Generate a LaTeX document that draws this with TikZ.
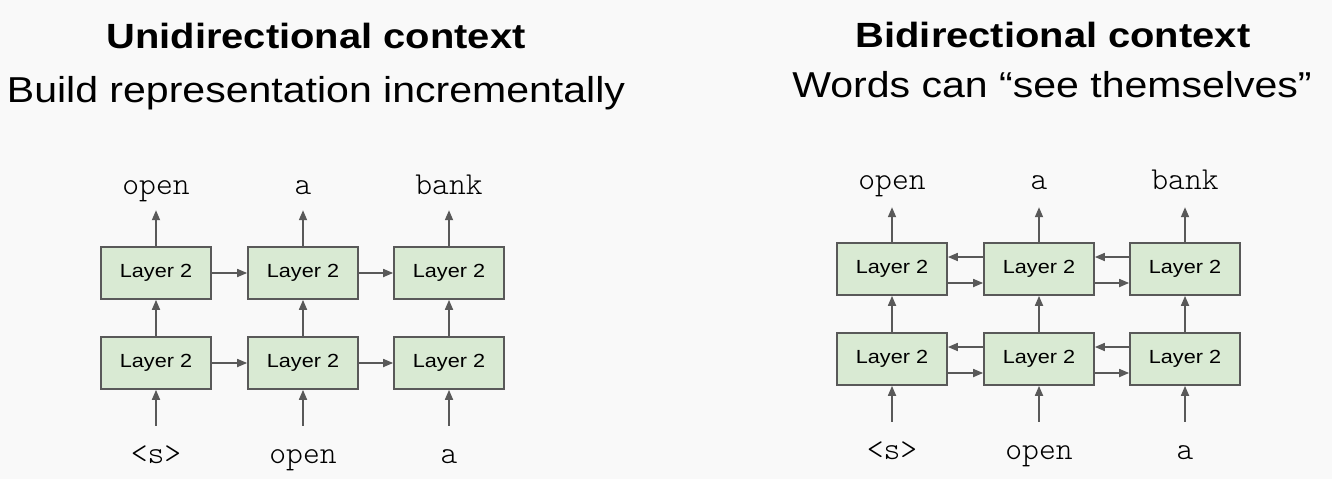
\documentclass[tikz,border=0pt]{standalone}
\usepackage{fontspec}
\setmainfont{Liberation Sans}[FakeStretch=1.14]
\setmonofont{Latin Modern Mono Light}
\usetikzlibrary{arrows.meta}
\definecolor{boxgreen}{HTML}{D9EAD3}
\definecolor{edgegray}{HTML}{595959}
\definecolor{pagegray}{HTML}{F9F9F9}
\newcommand{\tok}[1]{\texttt{#1}}

\tikzset{
  layer/.style={draw=edgegray, line width=1.7pt, fill=boxgreen,
    minimum width=110pt, minimum height=52pt, inner sep=0pt,
    font=\fontsize{19}{22}\selectfont},
  word/.style={anchor=base, inner sep=0pt, text height=18pt, text depth=6pt,
    font=\fontsize{32}{36}\selectfont},
  flow/.style={draw=edgegray, line width=1.7pt,
    -{Triangle[length=10pt,width=8pt]}},
  headline/.style={anchor=base, font=\fontsize{35}{40}\selectfont\bfseries},
  subline/.style={anchor=base, font=\fontsize{36}{40}\selectfont}
}

\begin{document}
\begin{tikzpicture}[x=1pt,y=-1pt]
    \path[use as bounding box, fill=pagegray] (0,0) rectangle (1332,479);

    % unidirectional
    \node[headline] (t1) at (316,48) {Unidirectional context};
    \node[subline]  (s1) at (316,102) {Build representation incrementally};

    \node[layer] (ul1) at (156,363) {Layer 2};
    \node[layer] (ul2) at (303,363) {Layer 2};
    \node[layer] (ul3) at (449,363) {Layer 2};
    \node[layer] (uu1) at (156,273) {Layer 2};
    \node[layer] (uu2) at (303,273) {Layer 2};
    \node[layer] (uu3) at (449,273) {Layer 2};

    \node[word] (ui1) at (156,463) {\tok{<s>}};
    \node[word] (ui2) at (303,463) {\tok{open}};
    \node[word] (ui3) at (449,463) {\tok{a}};
    \node[word] (uo1) at (156,194) {\tok{open}};
    \node[word] (uo2) at (303,194) {\tok{a}};
    \node[word] (uo3) at (449,194) {\tok{bank}};

    \draw[flow, shorten <=19pt] (ui1) -- (ul1);
    \draw[flow, shorten <=19pt] (ui2) -- (ul2);
    \draw[flow, shorten <=19pt] (ui3) -- (ul3);
    \draw[flow] (ul1) -- (uu1);
    \draw[flow] (ul2) -- (uu2);
    \draw[flow] (ul3) -- (uu3);
    \draw[flow, shorten >=10pt] (uu1) -- (uo1);
    \draw[flow, shorten >=10pt] (uu2) -- (uo2);
    \draw[flow, shorten >=10pt] (uu3) -- (uo3);
    \draw[flow] (ul1) -- (ul2);
    \draw[flow] (ul2) -- (ul3);
    \draw[flow] (uu1) -- (uu2);
    \draw[flow] (uu2) -- (uu3);

    % bidirectional
    \node[headline] (t2) at (1053,47) {Bidirectional context};
    \node[subline]  (s2) at (1052,97) {Words can “see themselves”};

    \node[layer] (bl1) at (892,359) {Layer 2};
    \node[layer] (bl2) at (1039,359) {Layer 2};
    \node[layer] (bl3) at (1185,359) {Layer 2};
    \node[layer] (bu1) at (892,269) {Layer 2};
    \node[layer] (bu2) at (1039,269) {Layer 2};
    \node[layer] (bu3) at (1185,269) {Layer 2};

    \node[word] (bi1) at (892,459) {\tok{<s>}};
    \node[word] (bi2) at (1039,459) {\tok{open}};
    \node[word] (bi3) at (1185,459) {\tok{a}};
    \node[word] (bo1) at (892,189) {\tok{open}};
    \node[word] (bo2) at (1039,189) {\tok{a}};
    \node[word] (bo3) at (1185,189) {\tok{bank}};

    \draw[flow, shorten <=19pt] (bi1) -- (bl1);
    \draw[flow, shorten <=19pt] (bi2) -- (bl2);
    \draw[flow, shorten <=19pt] (bi3) -- (bl3);
    \draw[flow] (bl1) -- (bu1);
    \draw[flow] (bl2) -- (bu2);
    \draw[flow] (bl3) -- (bu3);
    \draw[flow, shorten >=12pt] (bu1) -- (bo1);
    \draw[flow, shorten >=12pt] (bu2) -- (bo2);
    \draw[flow, shorten >=12pt] (bu3) -- (bo3);

    \draw[flow] ([yshift=12pt]bl2.west) -- ([yshift=12pt]bl1.east);
    \draw[flow] ([yshift=-14pt]bl1.east) -- ([yshift=-14pt]bl2.west);
    \draw[flow] ([yshift=12pt]bl3.west) -- ([yshift=12pt]bl2.east);
    \draw[flow] ([yshift=-14pt]bl2.east) -- ([yshift=-14pt]bl3.west);
    \draw[flow] ([yshift=12pt]bu2.west) -- ([yshift=12pt]bu1.east);
    \draw[flow] ([yshift=-14pt]bu1.east) -- ([yshift=-14pt]bu2.west);
    \draw[flow] ([yshift=12pt]bu3.west) -- ([yshift=12pt]bu2.east);
    \draw[flow] ([yshift=-14pt]bu2.east) -- ([yshift=-14pt]bu3.west);
\end{tikzpicture}
\end{document}
